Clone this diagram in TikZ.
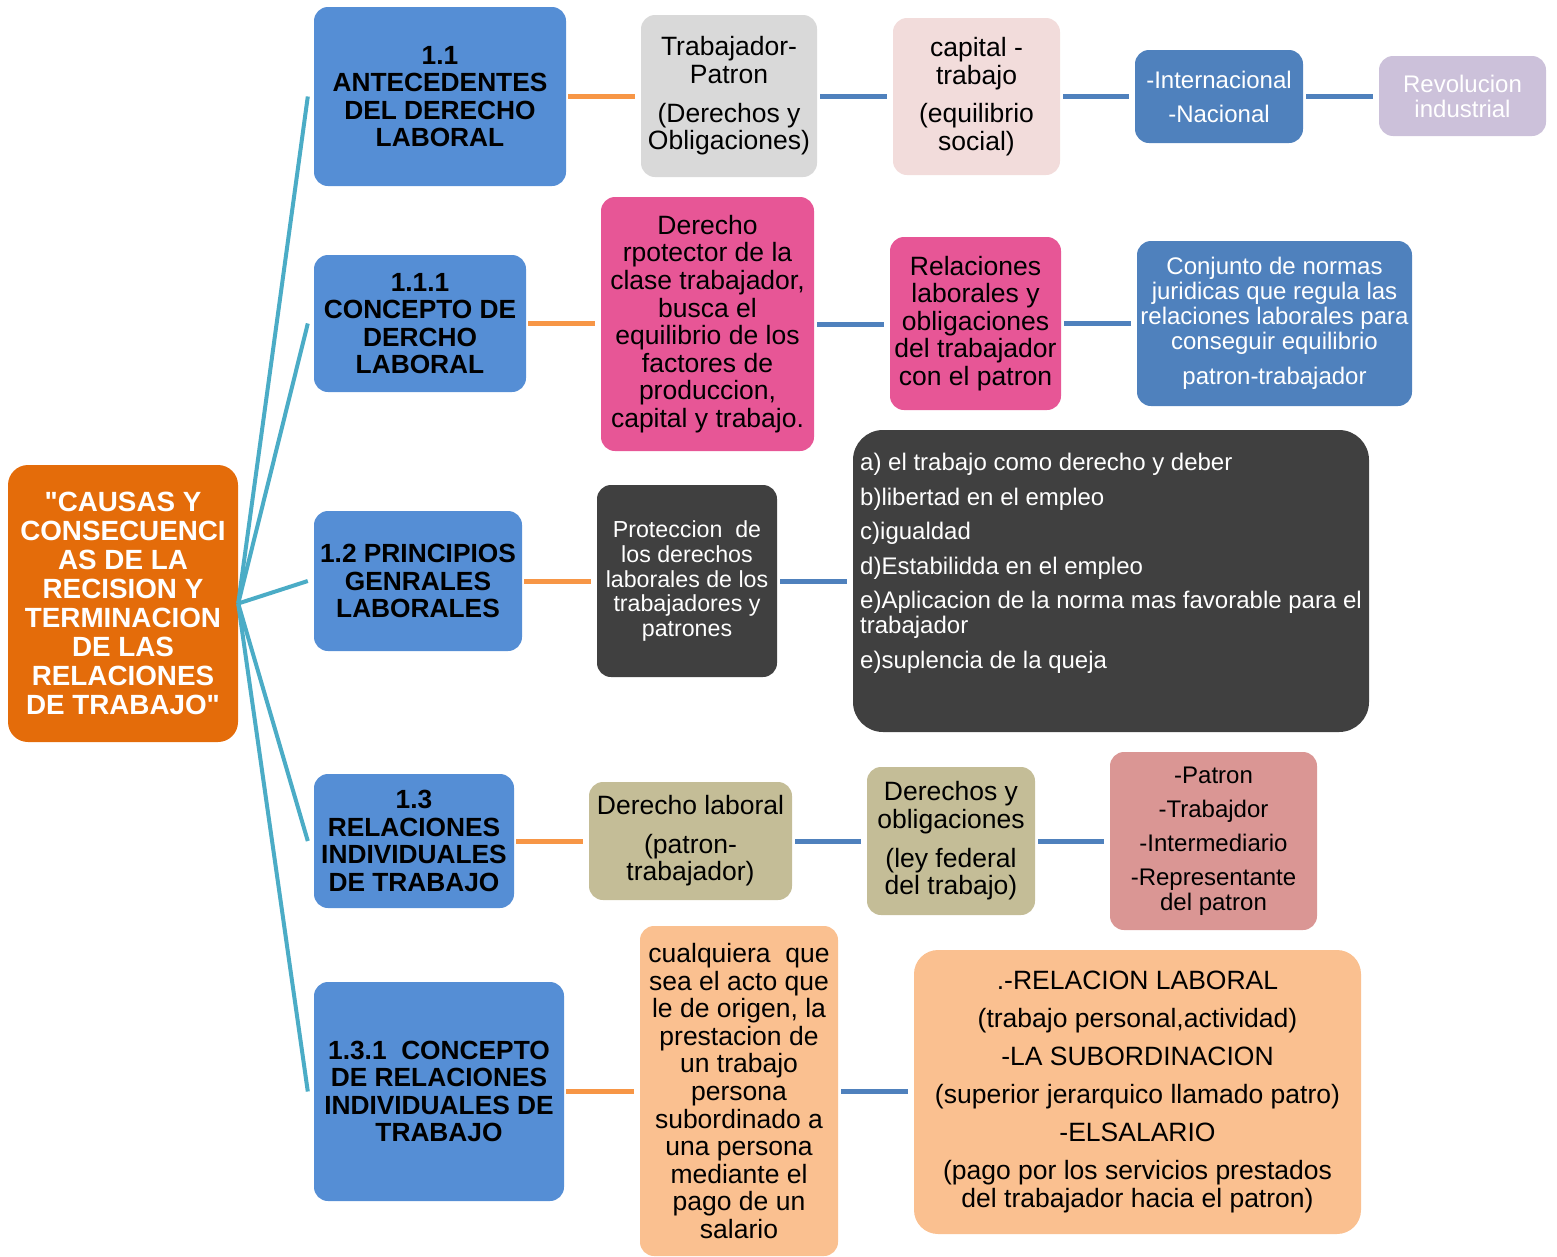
\documentclass[tikz,border=0pt]{standalone}
\usepackage{fontspec}
\setmainfont{Liberation Sans}[Ligatures=TeXOff]
\definecolor{rootor}{HTML}{E46C0A}
\definecolor{hblue}{HTML}{558ED5}
\definecolor{tealc}{HTML}{4BACC6}
\definecolor{orc}{HTML}{F79646}
\definecolor{bluec}{HTML}{4F81BD}
\definecolor{grayb}{HTML}{D9D9D9}
\definecolor{lpink}{HTML}{F2DCDB}
\definecolor{lav}{HTML}{CCC1DA}
\definecolor{hpink}{HTML}{E75696}
\definecolor{darkb}{HTML}{404040}
\definecolor{tan}{HTML}{C4BD97}
\definecolor{rose}{HTML}{DA9694}
\definecolor{peach}{HTML}{FAC090}
\begin{document}
\begin{tikzpicture}[x=1pt,y=-1pt,
  box/.style={rounded corners=14pt, inner sep=0pt, align=center, text=black,
    font=\fontsize{26.5}{27.6}\selectfont},
  head/.style={box, fill=hblue, font=\bfseries\fontsize{26.3}{27.5}\selectfont},
  small/.style={font=\fontsize{24}{25}\selectfont},
  tline/.style={draw=tealc, line width=4pt},
  oline/.style={draw=orc, line width=5pt, shorten <=2pt, shorten >=6pt},
  bline/.style={draw=bluec, line width=5pt, shorten <=3pt, shorten >=6pt}]
\useasboundingbox (0,0) rectangle (1557,1256);

% root
\node[box, fill=rootor, text=white, rounded corners=20pt, minimum width=230pt, minimum height=277pt,
  font=\bfseries\fontsize{27.8}{29}\selectfont] (root) at (123,603.5)
  {"CAUSAS Y\\CONSECUENCI\\AS DE LA\\RECISION Y\\TERMINACION\\DE LAS\\RELACIONES\\DE TRABAJO"};

% level 1
\node[head, minimum width=252pt, minimum height=179pt] (b1) at (440,96.5) {1.1\\ANTECEDENTES\\DEL DERECHO\\LABORAL};
\node[head, minimum width=212pt, minimum height=137pt] (b2) at (420,323.5) {1.1.1\\CONCEPTO DE\\DERCHO\\LABORAL};
\node[head, minimum width=208pt, minimum height=140pt] (b3) at (418,581) {1.2 PRINCIPIOS\\GENRALES\\LABORALES};
\node[head, minimum width=200pt, minimum height=134pt] (b4) at (414,841) {1.3\\RELACIONES\\INDIVIDUALES\\DE TRABAJO};
\node[head, minimum width=250pt, minimum height=219pt] (b5) at (439,1091.5) {1.3.1~ CONCEPTO\\DE RELACIONES\\INDIVIDUALES DE\\TRABAJO};

% row 1
\node[box, fill=grayb, minimum width=176pt, minimum height=162pt] (r1a) at (729,96) {Trabajador-\\Patron\\[11pt](Derechos y\\Obligaciones)};
\node[box, fill=lpink, minimum width=167pt, minimum height=157pt] (r1b) at (976.5,96.5) {capital -\\trabajo\\[11pt](equilibrio\\social)};
\node[box, small, fill=bluec, text=white, minimum width=168pt, minimum height=93pt] (r1c) at (1219,96.5) {-Internacional\\[9pt]-Nacional};
\node[box, small, fill=lav, text=white, minimum width=167pt, minimum height=80pt] (r1d) at (1462.5,96) {Revolucion\\industrial};

% row 2
\node[box, fill=hpink, minimum width=213pt, minimum height=254pt] (r2a) at (707.5,324) {Derecho\\rpotector de la\\clase trabajador,\\busca el\\equilibrio de los\\factores de\\produccion,\\capital y trabajo.};
\node[box, fill=hpink, minimum width=171pt, minimum height=173pt] (r2b) at (975.5,323.5) {Relaciones\\laborales y\\obligaciones\\del trabajador\\con el patron};
\node[box, small, fill=bluec, text=white, minimum width=275pt, minimum height=165pt] (r2c) at (1274.5,323.5) {Conjunto de normas\\juridicas que regula las\\relaciones laborales para\\conseguir equilibrio\\[10pt]patron-trabajador};

% row 3
\node[box, fill=darkb, text=white, minimum width=180pt, minimum height=192pt,
  font=\fontsize{23.2}{24.7}\selectfont] (r3a) at (687,581) {Proteccion~ de\\los derechos\\laborales de los\\trabajadores y\\patrones};
\node[box, fill=darkb, rounded corners=30pt, minimum width=516pt, minimum height=302pt] (r3b) at (1111,581) {};
\node[anchor=north west, inner sep=0pt, align=left, text=white,
  font=\fontsize{24}{25}\selectfont] (r3t) at (860,453)
  {a) el trabajo como derecho y deber\\[9.5pt]b)libertad en el empleo\\[9.5pt]c)igualdad\\[9.5pt]d)Estabilidda en el empleo\\[9.5pt]e)Aplicacion de la norma mas favorable para el\\trabajador\\[9.5pt]e)suplencia de la queja};

% row 4
\node[box, fill=tan, minimum width=203pt, minimum height=118pt] (r4a) at (690.5,841) {Derecho laboral\\[11pt](patron-\\trabajador)};
\node[box, fill=tan, minimum width=168pt, minimum height=148pt] (r4b) at (951,841) {Derechos y\\obligaciones\\[11pt](ley federal\\del trabajo)};
\node[box, small, fill=rose, minimum width=207pt, minimum height=178pt] (r4c) at (1213.5,841) {-Patron\\[9pt]-Trabajdor\\[9pt]-Intermediario\\[9pt]-Representante\\del patron};

% row 5
\node[box, fill=peach, minimum width=198pt, minimum height=330pt] (r5a) at (739,1091) {cualquiera~ que\\sea el acto que\\le de origen, la\\prestacion de\\un trabajo\\persona\\subordinado a\\una persona\\mediante el\\pago de un\\salario};
\node[box, fill=peach, rounded corners=24pt, minimum width=447pt, minimum height=284pt] (r5b) at (1137.5,1092) {.-RELACION LABORAL\\[10.5pt](trabajo personal,actividad)\\[10.5pt]-LA SUBORDINACION\\[10.5pt](superior jerarquico llamado patro)\\[10.5pt]-ELSALARIO\\[10.5pt](pago por los servicios prestados\\del trabajador hacia el patron)};

% teal connectors
\foreach \b in {b1,b2,b3,b4,b5}
  \draw[tline] (root.east) -- ([xshift=-6pt]\b.west);

% orange connectors
\draw[oline] (b1.east) -- (b1.east -| r1a.west);
\draw[oline] (b2.east) -- (b2.east -| r2a.west);
\draw[oline] (b3.east) -- (b3.east -| r3a.west);
\draw[oline] (b4.east) -- (b4.east -| r4a.west);
\draw[oline] (b5.east) -- (b5.east -| r5a.west);

% blue connectors
\draw[bline] (r1a.east) -- (r1a.east -| r1b.west);
\draw[bline] (r1b.east) -- (r1b.east -| r1c.west);
\draw[bline] (r1c.east) -- (r1c.east -| r1d.west);
\draw[bline] (r2a.east) -- (r2a.east -| r2b.west);
\draw[bline] (r2b.east) -- (r2b.east -| r2c.west);
\draw[bline] (r3a.east) -- (r3a.east -| r3b.west);
\draw[bline] (r4a.east) -- (r4a.east -| r4b.west);
\draw[bline] (r4b.east) -- (r4b.east -| r4c.west);
\draw[bline] (r5a.east) -- (r5a.east -| r5b.west);
\end{tikzpicture}
\end{document}
